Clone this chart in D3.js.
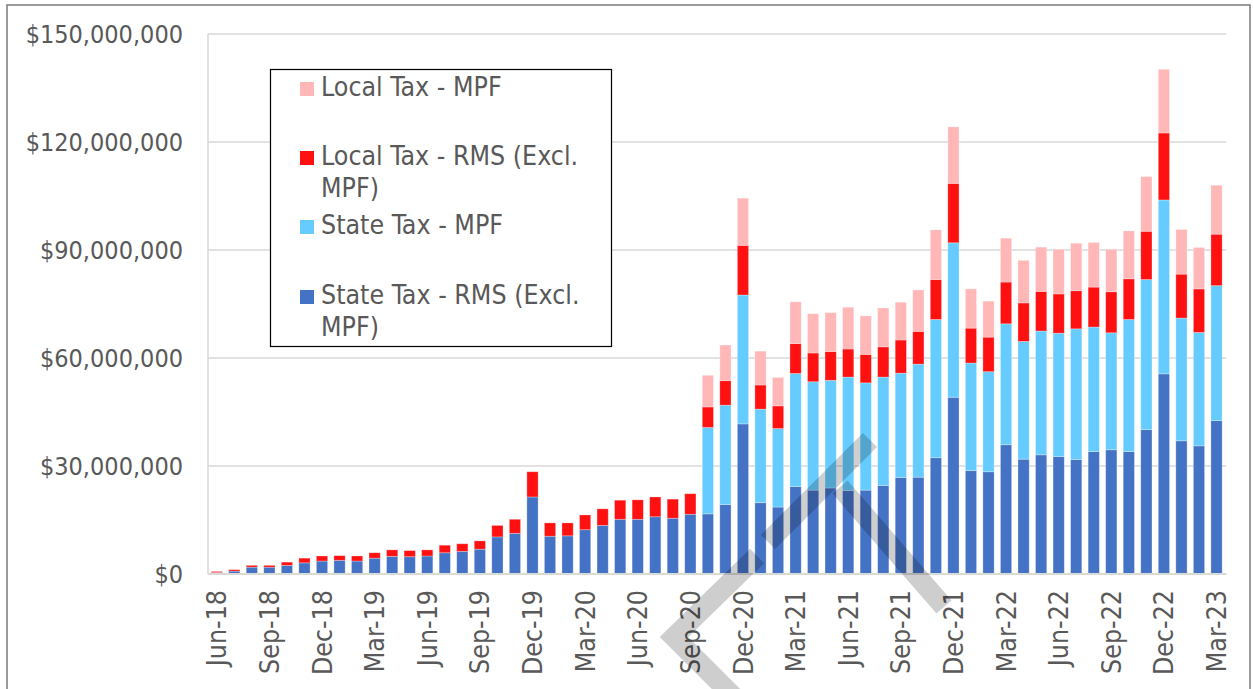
<!DOCTYPE html>
<html>
<head>
<meta charset="utf-8">
<script src="https://cdn.jsdelivr.net/npm/d3@7"></script>
<style>
  html, body { margin: 0; padding: 0; background: #fff; }
  svg { display: block; }
  text { font-family: "DejaVu Sans Condensed", "DejaVu Sans", sans-serif; font-stretch: condensed; fill: #595959; }
</style>
</head>
<body>
<svg id="chart" width="1253" height="689"></svg>
<script>
// ---------- data (values in $ millions) ----------
const months = [
  "Jun-18","Jul-18","Aug-18","Sep-18","Oct-18","Nov-18","Dec-18",
  "Jan-19","Feb-19","Mar-19","Apr-19","May-19","Jun-19","Jul-19","Aug-19","Sep-19","Oct-19","Nov-19","Dec-19",
  "Jan-20","Feb-20","Mar-20","Apr-20","May-20","Jun-20","Jul-20","Aug-20","Sep-20","Oct-20","Nov-20","Dec-20",
  "Jan-21","Feb-21","Mar-21","Apr-21","May-21","Jun-21","Jul-21","Aug-21","Sep-21","Oct-21","Nov-21","Dec-21",
  "Jan-22","Feb-22","Mar-22","Apr-22","May-22","Jun-22","Jul-22","Aug-22","Sep-22","Oct-22","Nov-22","Dec-22",
  "Jan-23","Feb-23","Mar-23"
];
const xTickLabels = ["Jun-18","Sep-18","Dec-18","Mar-19","Jun-19","Sep-19","Dec-19","Mar-20","Jun-20","Sep-20",
  "Dec-20","Mar-21","Jun-21","Sep-21","Dec-21","Mar-22","Jun-22","Sep-22","Dec-22","Mar-23"];
const yTickValues = [0, 30000000, 60000000, 90000000, 120000000, 150000000];
const yTickLabels = ["$0","$30,000,000","$60,000,000","$90,000,000","$120,000,000","$150,000,000"];

const stateRMS = [0.4,0.8,1.9,1.9,2.4,3.1,3.6,3.8,3.6,4.4,
  4.9,4.8,5.0,5.9,6.3,6.9,10.3,11.3,21.4,10.5,
  10.6,12.3,13.5,15.2,15.2,15.9,15.5,16.6,16.7,19.3,
  41.7,19.8,18.6,24.3,23.3,23.9,23.2,23.3,24.6,26.8,
  26.9,32.3,49.1,28.7,28.4,35.9,31.9,33.1,32.6,31.8,
  34.0,34.5,34.0,40.1,55.6,37.0,35.6,42.6];
const stateMPF = [0,0,0,0,0,0,0,0,0,0,
  0,0,0,0,0,0,0,0,0,0,
  0,0,0,0,0,0,0,0,24.0,27.6,
  35.8,26.0,21.8,31.4,30.1,29.9,31.5,29.8,30.1,29.0,
  31.4,38.4,42.9,29.9,27.8,33.6,32.7,34.4,34.3,36.3,
  34.6,32.5,36.7,41.7,48.3,34.1,31.5,37.5];
const localRMS = [0.3,0.4,0.5,0.5,0.9,1.3,1.4,1.3,1.4,1.5,
  1.8,1.7,1.7,2.1,2.1,2.3,3.2,3.9,7.0,3.7,
  3.6,4.1,4.6,5.3,5.4,5.5,5.3,5.7,5.7,6.8,
  13.8,6.7,6.3,8.3,8.0,8.0,7.8,7.9,8.4,9.2,
  9.1,11.1,16.5,9.7,9.6,11.6,10.7,11.0,10.9,10.6,
  11.1,11.4,11.3,13.4,18.6,12.2,12.1,14.3];
const localMPF = [0,0,0,0,0,0,0,0,0,0,
  0,0,0,0,0,0,0,0,0,0,
  0,0,0,0,0,0,0,0,8.8,9.9,
  13.1,9.4,7.9,11.6,10.9,10.8,11.6,10.7,10.8,10.5,
  11.5,13.8,15.7,10.9,10.0,12.2,11.8,12.3,12.4,13.2,
  12.4,11.8,13.3,15.2,17.7,12.4,11.5,13.6];

const seriesKeys = ["stateRMS","stateMPF","localRMS","localMPF"];
const seriesColors = ["#4472C4","#66CCFF","#FF1111","#FFB7B7"];
const legendItems = [
  {key:"localMPF", lines:["Local Tax - MPF"]},
  {key:"localRMS", lines:["Local Tax - RMS (Excl.","MPF)"]},
  {key:"stateMPF", lines:["State Tax - MPF"]},
  {key:"stateRMS", lines:["State Tax - RMS (Excl.","MPF)"]}
];

// ---------- build ----------
const rows = months.map((m, i) => ({
  month: m,
  stateRMS: stateRMS[i] * 1e6,
  stateMPF: stateMPF[i] * 1e6,
  localRMS: localRMS[i] * 1e6,
  localMPF: localMPF[i] * 1e6
}));
const color = d3.scaleOrdinal().domain(seriesKeys).range(seriesColors);

const svg = d3.select("#chart");
const plot = {left: 208, right: 1225.3, top: 34, bottom: 574};
const FONT = "'DejaVu Sans Condensed','DejaVu Sans',sans-serif";

// outer frame
svg.append("rect").attr("x", 7).attr("y", 5).attr("width", 1243).attr("height", 700)
  .attr("fill", "#fff").attr("stroke", "#828282").attr("stroke-width", 1.6);

const x = d3.scaleBand().domain(months).range([plot.left, plot.right])
  .paddingInner(0.36).paddingOuter(0.18);
const y = d3.scaleLinear().domain([0, 150000000]).range([plot.bottom, plot.top]);

// gridlines
svg.append("g").selectAll("line").data(yTickValues).join("line")
  .attr("x1", plot.left).attr("x2", plot.right + 1)
  .attr("y1", d => y(d)).attr("y2", d => y(d))
  .attr("stroke", "#D9D9D9").attr("stroke-width", 1.5);
// vertical axis line
svg.append("line").attr("x1", plot.left).attr("x2", plot.left)
  .attr("y1", y(150000000)).attr("y2", y(0))
  .attr("stroke", "#D9D9D9").attr("stroke-width", 1.5);

// y tick labels
const yAxis = d3.axisLeft(y).tickValues(yTickValues)
  .tickFormat((d, i) => yTickLabels[i]).tickSize(0).tickPadding(25);
const yg = svg.append("g").attr("transform", `translate(${plot.left},0)`).call(yAxis);
yg.select(".domain").remove();
yg.selectAll("text").style("font-size", "25px").attr("fill", "#595959")
  .attr("dy", "0.35em").style("font-family", FONT);

// stacked bars
const stack = d3.stack().keys(seriesKeys);
const stacked = stack(rows);
svg.append("g").selectAll("g").data(stacked).join("g")
  .attr("fill", d => color(d.key))
  .selectAll("rect").data(d => d).join("rect")
  .attr("x", d => x(d.data.month))
  .attr("width", x.bandwidth())
  .attr("y", d => y(d[1]))
  .attr("height", d => Math.max(0, y(d[0]) - y(d[1])))
  .attr("stroke", "#ffffff").attr("stroke-opacity", 0.35).attr("stroke-width", 0.8);

// baseline
svg.append("line").attr("x1", plot.left).attr("x2", plot.right + 1)
  .attr("y1", y(0)).attr("y2", y(0)).attr("stroke", "#D9D9D9").attr("stroke-width", 1.8);

// x tick labels (rotated)
const xAxis = d3.axisBottom(x).tickValues(xTickLabels).tickSize(0).tickPadding(0);
const xg = svg.append("g").attr("transform", `translate(0,${plot.bottom})`).call(xAxis);
xg.select(".domain").remove();
xg.selectAll("text")
  .attr("transform", "translate(0,16) rotate(-90)")
  .attr("y", 0).attr("x", 0).attr("dy", "0.36em")
  .style("text-anchor", "end")
  .style("font-size", "26.5px").attr("fill", "#595959")
  .style("font-family", FONT);

// legend
const lg = svg.append("g");
lg.append("rect").attr("x", 270.5).attr("y", 69.5).attr("width", 341).attr("height", 277)
  .attr("fill", "#fff").attr("stroke", "#000").attr("stroke-width", 1.2);
const rowTop = [82, 151, 220, 290];
legendItems.forEach((it, i) => {
  const g = lg.append("g");
  g.append("rect").attr("x", 300).attr("y", rowTop[i]).attr("width", 14).attr("height", 14)
    .attr("fill", color(it.key));
  it.lines.forEach((ln, j) => {
    g.append("text").attr("x", 321).attr("y", rowTop[i] + 14 + j * 31.7)
      .style("font-size", "26.5px").style("font-family", FONT).text(ln);
  });
});

// watermark (translucent grey strokes)
const wm = svg.append("g").attr("opacity", 0.19);
wm.append("path").attr("d", "M757,556 L674,637 L752,715")
  .attr("fill", "none").attr("stroke", "#000").attr("stroke-width", 20)
  .attr("stroke-linejoin", "miter");
wm.append("path").attr("d", "M768,542 L870,440 M840,487 L944,607")
  .attr("fill", "none").attr("stroke", "#000").attr("stroke-width", 20);
</script>
</body>
</html>
